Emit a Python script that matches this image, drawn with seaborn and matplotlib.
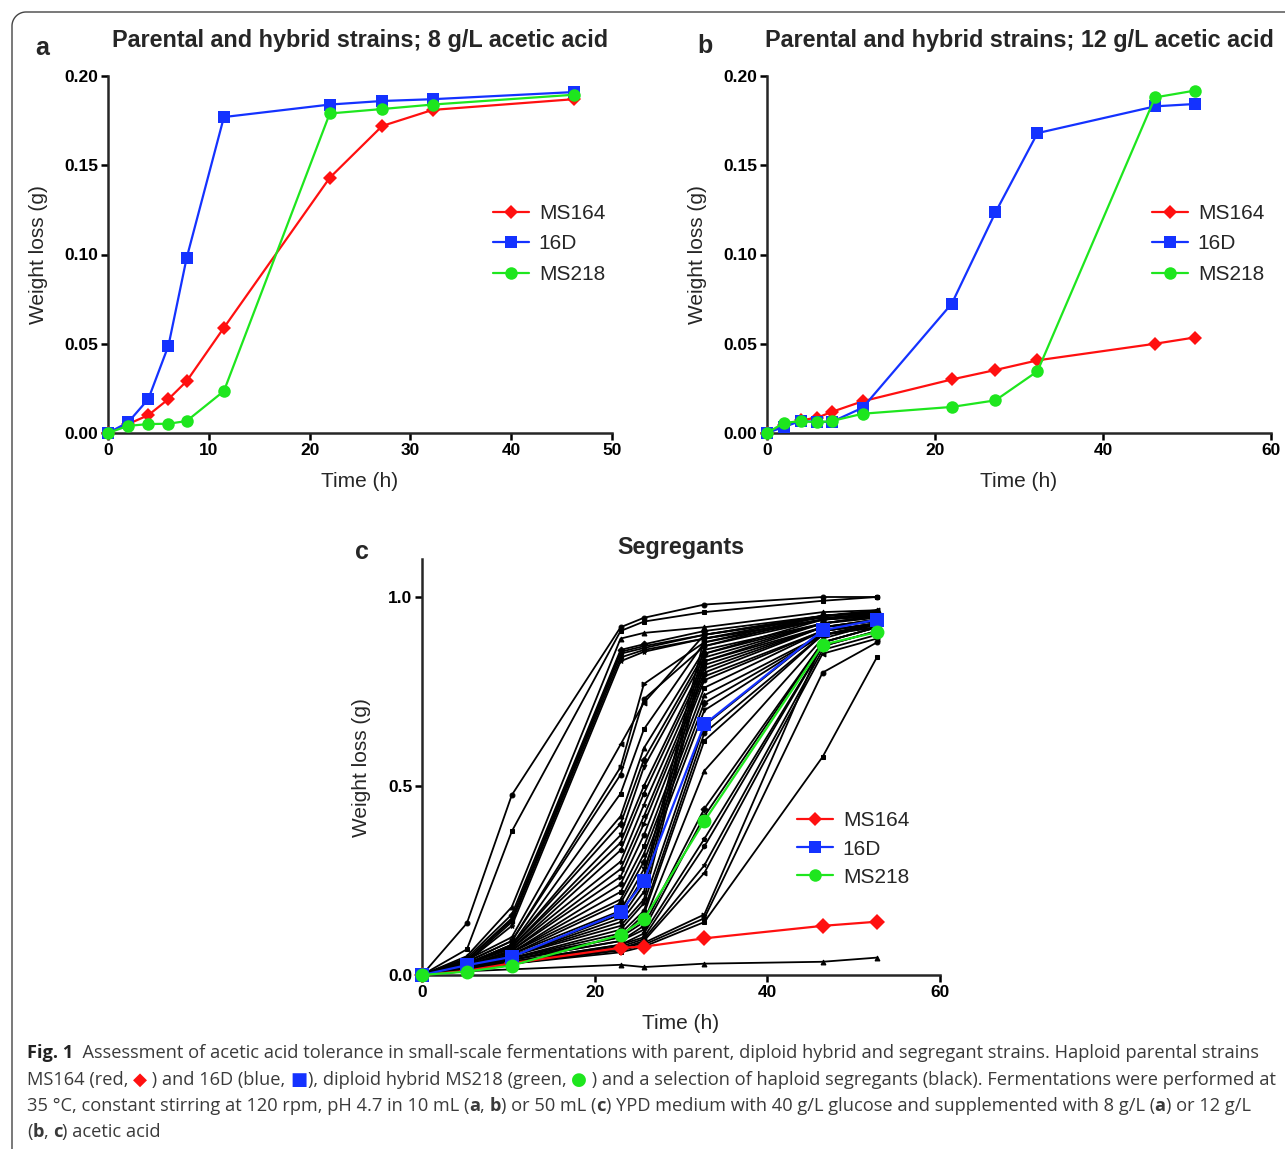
import numpy as np
import pandas as pd
import matplotlib
matplotlib.use("Agg")
import matplotlib.pyplot as plt
import seaborn as sns
from matplotlib.lines import Line2D
from matplotlib.ticker import FormatStrFormatter, FixedLocator
from matplotlib import font_manager

# ---------------- data ----------------
strains = ["MS164", "16D", "MS218"]

time_a = [0, 2, 4, 6, 7.8, 11.5, 22, 27.2, 32.2, 46.2]
ms164_a = [0, 0.005, 0.010, 0.019, 0.029, 0.059, 0.143, 0.172, 0.181, 0.187]
d16_a = [0, 0.006, 0.019, 0.049, 0.098, 0.177, 0.184, 0.186, 0.187, 0.191]
ms218_a = [0, 0.004, 0.005, 0.0052, 0.0067, 0.0235, 0.179, 0.1815, 0.184, 0.1895]

time_b = [0, 2, 4, 6, 7.7, 11.4, 22, 27.2, 32.2, 46.2, 50.9]
ms164_b = [0, 0.0043, 0.0071, 0.0086, 0.0118, 0.0178, 0.030, 0.0353, 0.0407, 0.050, 0.0535]
d16_b = [0, 0.0034, 0.0067, 0.0062, 0.0062, 0.0142, 0.0725, 0.1236, 0.168, 0.183, 0.1843]
ms218_b = [0, 0.0056, 0.0067, 0.006, 0.0067, 0.0108, 0.0146, 0.0183, 0.0346, 0.188, 0.1918]

time_c = [0, 5.2, 10.4, 23.0, 25.7, 32.7, 46.4, 52.7]
ms164_c = [0, 0.011, 0.031, 0.072, 0.075, 0.097, 0.130, 0.141]
d16_c = [0, 0.026, 0.048, 0.166, 0.248, 0.663, 0.912, 0.940]
ms218_c = [0, 0.009, 0.025, 0.106, 0.147, 0.407, 0.874, 0.907]

segregants_c = [
    [0, 0.137, 0.476, 0.920, 0.945, 0.980, 1.000, 1.000],
    [0, 0.068, 0.380, 0.910, 0.935, 0.960, 0.990, 1.000],
    [0, 0.050, 0.180, 0.890, 0.905, 0.920, 0.960, 0.965],
    [0, 0.045, 0.160, 0.860, 0.875, 0.910, 0.950, 0.960],
    [0, 0.040, 0.150, 0.855, 0.870, 0.900, 0.950, 0.960],
    [0, 0.040, 0.145, 0.850, 0.865, 0.900, 0.945, 0.955],
    [0, 0.035, 0.140, 0.840, 0.860, 0.890, 0.940, 0.950],
    [0, 0.035, 0.130, 0.830, 0.855, 0.890, 0.940, 0.950],
    [0, 0.040, 0.100, 0.610, 0.720, 0.900, 0.950, 0.965],
    [0, 0.035, 0.090, 0.550, 0.770, 0.880, 0.940, 0.960],
    [0, 0.035, 0.090, 0.530, 0.730, 0.870, 0.940, 0.955],
    [0, 0.030, 0.080, 0.480, 0.650, 0.880, 0.950, 0.960],
    [0, 0.030, 0.080, 0.420, 0.600, 0.860, 0.930, 0.950],
    [0, 0.030, 0.080, 0.400, 0.570, 0.850, 0.930, 0.950],
    [0, 0.030, 0.075, 0.370, 0.550, 0.840, 0.930, 0.945],
    [0, 0.030, 0.075, 0.350, 0.500, 0.830, 0.920, 0.940],
    [0, 0.030, 0.070, 0.330, 0.480, 0.820, 0.920, 0.940],
    [0, 0.030, 0.070, 0.300, 0.450, 0.810, 0.920, 0.940],
    [0, 0.025, 0.065, 0.280, 0.420, 0.800, 0.920, 0.935],
    [0, 0.025, 0.065, 0.260, 0.400, 0.790, 0.910, 0.930],
    [0, 0.025, 0.060, 0.240, 0.370, 0.780, 0.910, 0.930],
    [0, 0.025, 0.060, 0.220, 0.340, 0.760, 0.910, 0.930],
    [0, 0.025, 0.060, 0.200, 0.320, 0.740, 0.900, 0.930],
    [0, 0.020, 0.055, 0.190, 0.300, 0.720, 0.900, 0.925],
    [0, 0.020, 0.055, 0.170, 0.280, 0.700, 0.900, 0.920],
    [0, 0.020, 0.050, 0.160, 0.260, 0.890, 0.950, 0.960],
    [0, 0.020, 0.050, 0.150, 0.240, 0.870, 0.950, 0.960],
    [0, 0.020, 0.050, 0.140, 0.220, 0.850, 0.940, 0.955],
    [0, 0.020, 0.050, 0.130, 0.200, 0.830, 0.930, 0.950],
    [0, 0.020, 0.045, 0.120, 0.190, 0.660, 0.910, 0.930],
    [0, 0.020, 0.045, 0.110, 0.170, 0.640, 0.900, 0.930],
    [0, 0.020, 0.045, 0.100, 0.160, 0.620, 0.900, 0.920],
    [0, 0.020, 0.040, 0.100, 0.140, 0.540, 0.890, 0.930],
    [0, 0.020, 0.040, 0.090, 0.130, 0.440, 0.880, 0.920],
    [0, 0.015, 0.040, 0.090, 0.120, 0.420, 0.880, 0.920],
    [0, 0.015, 0.035, 0.080, 0.110, 0.360, 0.870, 0.910],
    [0, 0.015, 0.035, 0.080, 0.100, 0.340, 0.870, 0.910],
    [0, 0.015, 0.035, 0.075, 0.095, 0.290, 0.860, 0.900],
    [0, 0.015, 0.030, 0.070, 0.090, 0.270, 0.850, 0.890],
    [0, 0.015, 0.030, 0.070, 0.085, 0.160, 0.880, 0.920],
    [0, 0.015, 0.030, 0.065, 0.080, 0.150, 0.800, 0.880],
    [0, 0.015, 0.030, 0.060, 0.075, 0.140, 0.577, 0.841],
    [0, 0.010, 0.015, 0.027, 0.021, 0.030, 0.035, 0.046],
]

titles = ["Parental and hybrid strains; 8 g/L acetic acid",
          "Parental and hybrid strains; 12 g/L acetic acid",
          "Segregants"]
xlabel = "Time (h)"
ylabel = "Weight loss (g)"

# ---------------- style ----------------
sns.set_style("ticks")
plt.rcParams["font.family"] = ["Liberation Sans", "DejaVu Sans"]
plt.rcParams["axes.linewidth"] = 1.8

colors = {"MS164": "#ff1010", "16D": "#1432ff", "MS218": "#1ee61e"}
markers = {"MS164": "D", "16D": "s", "MS218": "o"}

W, H = 1285, 1149
fig = plt.figure(figsize=(W / 100, H / 100), dpi=100)


def fx(px):
    return px / W


def fy(py):
    return 1 - py / H


def parent_df(t, a, b, c):
    return pd.DataFrame({
        "time": list(t) * 3,
        "loss": list(a) + list(b) + list(c),
        "strain": [s for s in strains for _ in t],
    })


def draw_parents(ax, df, msize):
    for s in strains:
        sub = df[df["strain"] == s]
        ms = msize[s]
        sns.lineplot(data=sub, x="time", y="loss", ax=ax, color=colors[s],
                     marker=markers[s], markersize=ms, markeredgewidth=0,
                     linewidth=1.6, legend=False, clip_on=False, zorder=5)


def style_axes(ax, xticks, yticks, yfmt, tsize=12.5):
    sns.despine(ax=ax)
    ax.xaxis.set_major_locator(FixedLocator(xticks))
    ax.yaxis.set_major_locator(FixedLocator(yticks))
    ax.yaxis.set_major_formatter(FormatStrFormatter(yfmt))
    ax.tick_params(direction="out", length=5, width=1.8, labelsize=tsize,
                   pad=2, colors="black")
    for lab in ax.get_xticklabels() + ax.get_yticklabels():
        lab.set_fontweight("bold")
    ax.set_xlabel(xlabel, fontsize=15, labelpad=10)
    ax.set_ylabel(ylabel, fontsize=15, labelpad=12)


def add_legend(ax, x_px, y_px, spacing):
    handles = [Line2D([], [], color=colors[s], marker=markers[s],
                      markersize={"MS164": 7, "16D": 9, "MS218": 9}[s],
                      markeredgewidth=0, lw=1.6) for s in strains]
    ax.legend(handles, strains, loc="center left",
              bbox_to_anchor=(fx(x_px), fy(y_px)), bbox_transform=fig.transFigure,
              frameon=False, fontsize=15, handlelength=1.75, handletextpad=0.45,
              labelspacing=spacing, borderpad=0, borderaxespad=0)


# panel a
ax_a = fig.add_axes([fx(108), fy(433), fx(612) - fx(108), fy(76) - fy(433)])
draw_parents(ax_a, parent_df(time_a, ms164_a, d16_a, ms218_a),
             {"MS164": 7, "16D": 9, "MS218": 9})
ax_a.set_xlim(0, 50)
ax_a.set_ylim(0, 0.2)
style_axes(ax_a, [0, 10, 20, 30, 40, 50], [0, 0.05, 0.10, 0.15, 0.20], "%.2f")
ax_a.set_title(titles[0], fontsize=16.8, fontweight="bold", pad=21)
add_legend(ax_a, 493, 244, 0.56)

# panel b
ax_b = fig.add_axes([fx(767), fy(433), fx(1271) - fx(767), fy(76) - fy(433)])
draw_parents(ax_b, parent_df(time_b, ms164_b, d16_b, ms218_b),
             {"MS164": 7, "16D": 9, "MS218": 9})
ax_b.set_xlim(0, 60)
ax_b.set_ylim(0, 0.2)
style_axes(ax_b, [0, 20, 40, 60], [0, 0.05, 0.10, 0.15, 0.20], "%.2f")
ax_b.set_title(titles[1], fontsize=16.8, fontweight="bold", pad=21)
add_legend(ax_b, 1152, 244, 0.56)

# panel c
y0c, y1c = 975, 597
top_c = y0c - 1.1 * (y0c - y1c)
ax_c = fig.add_axes([fx(422), fy(975), fx(940) - fx(422), fy(top_c) - fy(975)])
seg_df = pd.DataFrame({
    "time": time_c * len(segregants_c),
    "loss": [v for row in segregants_c for v in row],
    "seg": [i for i in range(len(segregants_c)) for _ in time_c],
})
mk_cycle = ["o", "s", "^", "D", "v", "p", "h", "*", "<", ">"]
seg_markers = [mk_cycle[i % len(mk_cycle)] for i in range(len(segregants_c))]
sns.lineplot(data=seg_df, x="time", y="loss", style="seg", markers=seg_markers,
             dashes=False, color="black", linewidth=1.3, markersize=3.5,
             markeredgecolor="black", ax=ax_c, legend=False, clip_on=False,
             zorder=2)
draw_parents(ax_c, parent_df(time_c, ms164_c, d16_c, ms218_c),
             {"MS164": 8, "16D": 10, "MS218": 10})
ax_c.set_xlim(0, 60)
ax_c.set_ylim(0, 1.1)
style_axes(ax_c, [0, 20, 40, 60], [0, 0.5, 1.0], "%.1f")
ax_c.set_title(titles[2], fontsize=16.8, fontweight="bold", pad=3)
add_legend(ax_c, 797, 849, 0.44)

# panel letters
for letter, (px, py) in zip("abc", [(35, 48), (697, 46), (355, 552)]):
    fig.text(fx(px), fy(py), letter, fontsize=18, fontweight="bold", va="center")

# border (rounded corner top-left)
r = 14
cx, cy = 12 + r, 12 + r
theta = np.linspace(np.pi, np.pi / 2, 20)
bx = [12] + list(cx + r * np.cos(theta)) + [W + 5]
by = [H + 5] + list(cy - r * np.sin(theta)) + [12]
fig.add_artist(Line2D([fx(v) for v in bx], [fy(v) for v in by],
                      transform=fig.transFigure, color="#444444", lw=1.0))

# ---------------- caption ----------------
names = {f.name for f in font_manager.fontManager.ttflist}
cap_family = "Liberation Sans Narrow" if "Liberation Sans Narrow" in names else "Open Sans"
cap_color = "#3a3a3a"
renderer = fig.canvas.get_renderer()


def text_width(txt, size, weight):
    t1 = fig.text(0, 0, "x" + txt + "x", fontsize=size, fontweight=weight,
                  family=[cap_family, "DejaVu Sans"])
    t2 = fig.text(0, 0, "xx", fontsize=size, fontweight=weight,
                  family=[cap_family, "DejaVu Sans"])
    w = t1.get_window_extent(renderer).width - t2.get_window_extent(renderer).width
    t1.remove()
    t2.remove()
    return w


cap_lines = [
    [("Fig. 1", "bold", "#222222"),
     ("  Assessment of acetic acid tolerance in small-scale fermentations with parent, diploid hybrid and segregant strains. Haploid parental strains", "normal", cap_color)],
    [("MS164 (red, ", "normal", cap_color), ("\u25c6", "normal", "#ff1010"),
     (" ) and 16D (blue, ", "normal", cap_color), ("\u25a0", "normal", "#1432ff"),
     ("), diploid hybrid MS218 (green, ", "normal", cap_color), ("\u25cf", "normal", "#1ee61e"),
     (" ) and a selection of haploid segregants (black). Fermentations were performed at", "normal", cap_color)],
    [("35 \u00b0C, constant stirring at 120 rpm, pH 4.7 in 10 mL (", "normal", cap_color),
     ("a", "bold", cap_color), (", ", "normal", cap_color), ("b", "bold", cap_color),
     (") or 50 mL (", "normal", cap_color), ("c", "bold", cap_color),
     (") YPD medium with 40 g/L glucose and supplemented with 8 g/L (", "normal", cap_color),
     ("a", "bold", cap_color), (") or 12 g/L", "normal", cap_color)],
    [("(", "normal", cap_color), ("b", "bold", cap_color), (", ", "normal", cap_color),
     ("c", "bold", cap_color), (") acetic acid", "normal", cap_color)],
]

# fit the first caption line to its width in the reference
base = 12.0
w1 = sum(text_width(t, base, wt) for t, wt, _ in cap_lines[0])
cap_size = base * (1257 - 27) / w1

for line, ypx in zip(cap_lines, [1053, 1080, 1106, 1132]):
    x = 27.0
    for txt, wt, col in line:
        fig.text(fx(x), fy(ypx), txt, fontsize=cap_size, fontweight=wt, color=col,
                 va="center", family=[cap_family, "DejaVu Sans"])
        x += text_width(txt, cap_size, wt)

fig.savefig("out.png", dpi=100)
